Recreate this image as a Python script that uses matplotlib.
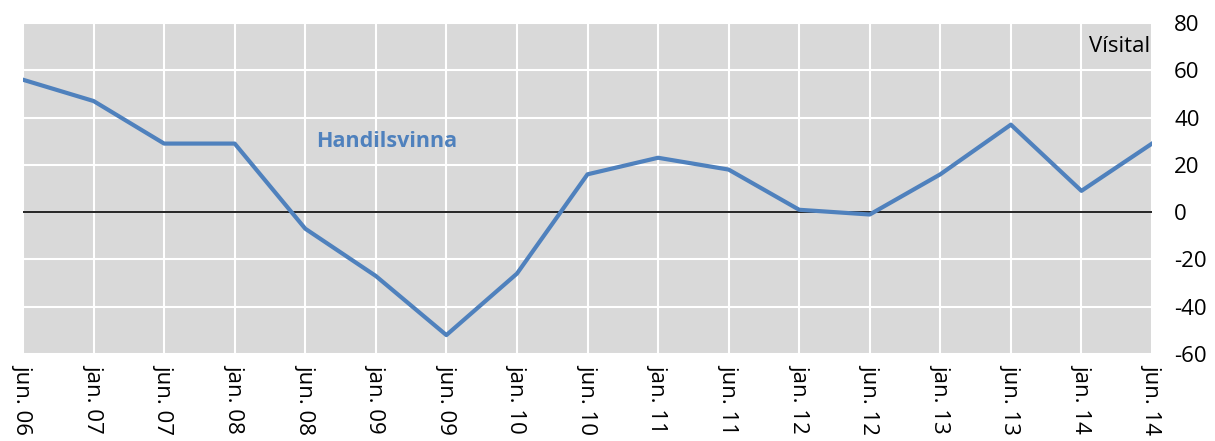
import matplotlib.pyplot as plt
import numpy as np

plt.rcParams['font.family'] = ['Open Sans', 'DejaVu Sans']
plt.rcParams['axes.unicode_minus'] = False

labels = ["jun. 06", "jan. 07", "jun. 07", "jan. 08", "jun. 08", "jan. 09",
          "jun. 09", "jan. 10", "jun. 10", "jan. 11", "jun. 11", "jan. 12",
          "jun. 12", "jan. 13", "jun. 13", "jan. 14", "jun. 14"]
handilsvinna = [56, 47, 29, 29, -7, -27, -52, -26, 16, 23, 18, 1, -1, 16, 37, 9, 29]

blue = "#4F81BD"

fig = plt.figure(figsize=(12.15, 4.41), dpi=100)
ax = fig.add_axes([23 / 1215, 1 - 354 / 441, (1152 - 23) / 1215, (354 - 23) / 441])
ax.set_facecolor("#D9D9D9")

x = np.arange(len(labels))
ax.plot(x, handilsvinna, color=blue, lw=3, zorder=3)
ax.axhline(0, color="black", lw=1.2, zorder=2)

ax.set_xlim(0, len(labels) - 1)
ax.set_ylim(-60, 80)
ax.set_xticks(x)
ax.set_xticklabels(labels, rotation=270, fontsize=16)
ax.set_yticks(np.arange(-60, 81, 20))
ax.yaxis.tick_right()
ax.tick_params(axis="both", length=0, labelsize=16, colors="black")
ax.tick_params(axis="y", pad=16)
ax.tick_params(axis="x", pad=7)
ax.grid(True, color="white", lw=1.5, zorder=1)
ax.set_axisbelow(True)
for s in ax.spines.values():
    s.set_visible(False)

ax.text(4.15, 30, "Handilsvinna", color=blue, fontsize=15.5, fontweight="bold",
        va="center", ha="left")
ax.text(0.998, 0.93, "Vísital", transform=ax.transAxes, fontsize=16,
        ha="right", va="center")

fig.savefig("out.png", dpi=100)
